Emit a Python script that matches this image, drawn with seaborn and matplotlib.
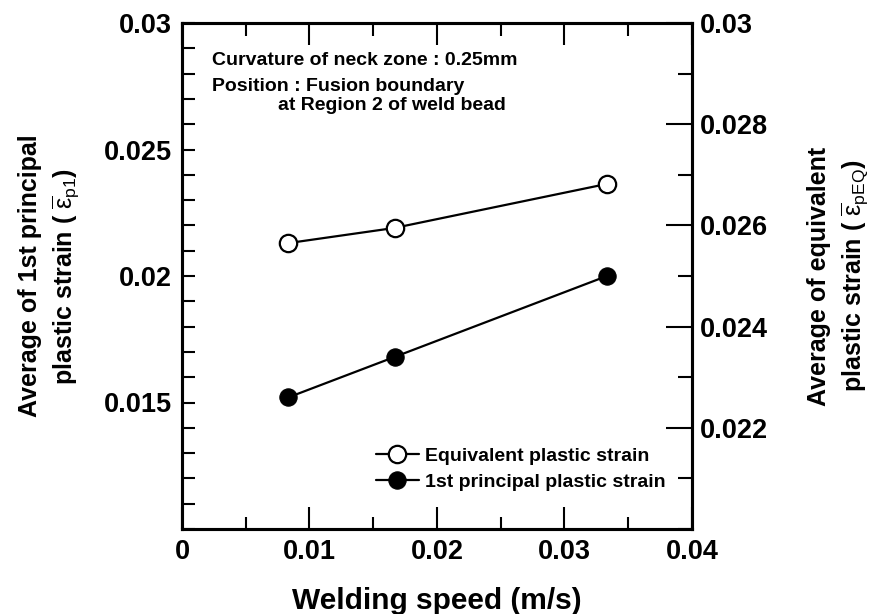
import matplotlib
matplotlib.use("Agg")
import matplotlib.pyplot as plt
import seaborn as sns
import pandas as pd
from matplotlib.ticker import MultipleLocator

# ---- data ----
welding_speed = [0.00833, 0.01667, 0.03333]
principal_strain = [0.0152, 0.0168, 0.0200]
equivalent_strain = [0.02565, 0.02595, 0.02682]

x_ticks = [0, 0.01, 0.02, 0.03, 0.04]
x_tick_labels = ["0", "0.01", "0.02", "0.03", "0.04"]
left_ticks = [0.015, 0.02, 0.025, 0.03]
left_tick_labels = ["0.015", "0.02", "0.025", "0.03"]
right_ticks = [0.022, 0.024, 0.026, 0.028, 0.03]
right_tick_labels = ["0.022", "0.024", "0.026", "0.028", "0.03"]

label_equiv = "Equivalent plastic strain"
label_princ = "1st principal plastic strain"
note_lines = ["Curvature of neck zone : 0.25mm",
              "Position : Fusion boundary",
              "at Region 2 of weld bead"]

sns.set_theme(style="ticks")
plt.rcParams["font.family"] = ["Liberation Sans", "DejaVu Sans"]
plt.rcParams["mathtext.fontset"] = "custom"
plt.rcParams["mathtext.rm"] = "Liberation Sans"
plt.rcParams["mathtext.it"] = "Liberation Sans:italic"
plt.rcParams["mathtext.bf"] = "Liberation Sans:bold"
for k in ["text.color", "axes.labelcolor", "xtick.color", "ytick.color", "axes.edgecolor"]:
    plt.rcParams[k] = "black"

df_p = pd.DataFrame({"speed": welding_speed, "strain": principal_strain})
df_e = pd.DataFrame({"speed": welding_speed, "strain": equivalent_strain})

fig = plt.figure(figsize=(8.7, 6.14), dpi=100)
ax = fig.add_axes([182 / 870, 1 - 529 / 614, 510 / 870, 506 / 614])
ax2 = ax.twinx()

sns.lineplot(data=df_p, x="speed", y="strain", ax=ax, color="black",
             marker="o", markersize=12.5, markerfacecolor="black",
             markeredgecolor="black", linewidth=1.6, label=label_princ,
             legend=False)
sns.lineplot(data=df_e, x="speed", y="strain", ax=ax2, color="black",
             marker="o", markersize=12.5, markerfacecolor="white",
             markeredgecolor="black", markeredgewidth=1.6, linewidth=1.6,
             label=label_equiv, legend=False)

ax.set_xlim(0, 0.04)
ax.set_ylim(0.01, 0.03)
ax2.set_ylim(0.02, 0.03)

ax.set_xticks(x_ticks)
ax.set_xticklabels(x_tick_labels)
ax.xaxis.set_minor_locator(MultipleLocator(0.005))
ax.set_yticks(left_ticks)
ax.set_yticklabels(left_tick_labels)
ax.yaxis.set_minor_locator(MultipleLocator(0.001))
ax2.set_yticks(right_ticks)
ax2.set_yticklabels(right_tick_labels)
ax2.yaxis.set_minor_locator(MultipleLocator(0.001))

for a in (ax, ax2):
    for s in a.spines.values():
        s.set_linewidth(2.2)
        s.set_color("black")
        s.set_visible(True)

ax.tick_params(axis="x", which="major", direction="in", length=16, width=1.5,
               top=True, bottom=True, labelsize=19.5, pad=7)
ax.tick_params(axis="x", which="minor", direction="in", length=9, width=1.5,
               top=True, bottom=True)
ax.tick_params(axis="y", which="both", direction="in", length=9, width=1.5,
               left=True, right=False, labelsize=19.5, pad=7)
ax2.tick_params(axis="y", which="major", direction="in", length=19, width=1.5,
                labelsize=19.5, pad=6)
ax2.tick_params(axis="y", which="minor", direction="in", length=10, width=1.5)

for lab in ax.get_xticklabels() + ax.get_yticklabels() + ax2.get_yticklabels():
    lab.set_fontweight("bold")

ax.set_xlabel("Welding speed (m/s)", fontsize=21.5, fontweight="bold", labelpad=16)
ax.set_ylabel("Average of 1st principal\nplastic strain ( $\\overline{\\mathrm{\\varepsilon}}_{\\mathrm{p1}}$)",
              fontsize=18, fontweight="bold", labelpad=17, linespacing=1.35)
ax2.set_ylabel("Average of equivalent\nplastic strain ( $\\overline{\\mathrm{\\varepsilon}}_{\\mathrm{pEQ}}$)",
               fontsize=18, fontweight="bold", labelpad=28, linespacing=1.35)

ax.text(0.059, 0.917, note_lines[0], transform=ax.transAxes, fontsize=14,
        fontweight="bold", va="baseline", ha="left")
ax.text(0.059, 0.866, note_lines[1], transform=ax.transAxes, fontsize=14,
        fontweight="bold", va="baseline", ha="left")
ax.text(0.188, 0.828, note_lines[2], transform=ax.transAxes, fontsize=14,
        fontweight="bold", va="baseline", ha="left")

h1 = ax.get_lines()[0]
h2 = ax2.get_lines()[0]
ax2.legend([h2, h1], [label_equiv, label_princ], loc="upper left",
           bbox_to_anchor=(0.38, 0.162), frameon=False,
           prop={"weight": "bold", "size": 14}, handlelength=2.2,
           handletextpad=0.35, labelspacing=0.45, borderpad=0, borderaxespad=0)

ax.set_facecolor("white")
fig.savefig("out.png", dpi=100, facecolor="white")
